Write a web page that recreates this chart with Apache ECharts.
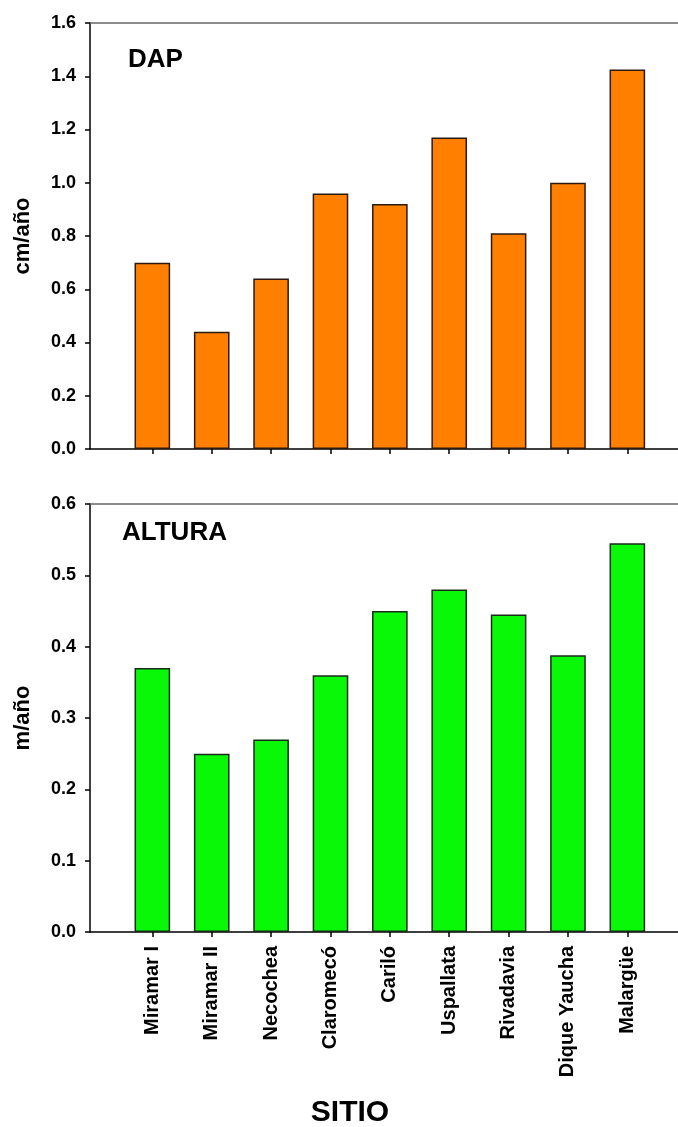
<!DOCTYPE html>
<html>
<head>
<meta charset="utf-8">
<script src="https://cdn.jsdelivr.net/npm/echarts@6/dist/echarts.min.js"></script>
<style>
  html, body { margin: 0; padding: 0; background: #fff; }
  #main { width: 678px; height: 1127px; }
</style>
</head>
<body>
<div id="main"></div>
<script>
// sitios
var sitios = ['Miramar I', 'Miramar II', 'Necochea', 'Claromecó', 'Cariló', 'Uspallata', 'Rivadavia', 'Dique Yaucha', 'Malargüe'];
// crecimiento DAP (cm/año)
var dap = [0.70, 0.44, 0.64, 0.96, 0.92, 1.17, 0.81, 1.00, 1.425];
// crecimiento en altura (m/año)
var altura = [0.37, 0.25, 0.27, 0.36, 0.45, 0.48, 0.445, 0.388, 0.545];
var dapTicks = [0, 1.6, 0.2];
var alturaTicks = [0, 0.6, 0.1];
// posición de cada sitio en el eje x (1..9); el eje sigue más allá del borde derecho
var xPos = [1, 2, 3, 4, 5, 6, 7, 8, 9];
var xRange = [-0.05, 9.853];

var FONT = '"Liberation Sans", Arial, sans-serif';

var pairs = function (vals) {
    return vals.map(function (v, i) { return [xPos[i], v]; });
};

var myChart = echarts.init(document.getElementById('main'));

function xAxisFor(gridIndex, showLabels) {
    return {
        type: 'value',
        gridIndex: gridIndex,
        min: xRange[0],
        max: xRange[1],
        axisLine: { show: true, onZero: false, lineStyle: { color: '#000', width: 1.5 } },
        axisTick: { show: true, customValues: xPos, length: 5, lineStyle: { color: '#000', width: 1.5 } },
        axisLabel: {
            show: showLabels,
            customValues: xPos,
            rotate: 90,
            margin: 14,
            color: '#000',
            fontWeight: 'bold',
            fontSize: 20,
            fontFamily: FONT,
            formatter: function (v) { return sitios[Math.round(v) - 1] || ''; }
        },
        splitLine: { show: false }
    };
}

// línea superior del marco
function topFrame(gridIndex) {
    return {
        type: 'value',
        gridIndex: gridIndex,
        position: 'top',
        min: xRange[0],
        max: xRange[1],
        axisLine: { show: true, onZero: false, lineStyle: { color: '#666', width: 1.5 } },
        axisTick: { show: false },
        axisLabel: { show: false },
        splitLine: { show: false }
    };
}

function yAxisFor(gridIndex, ticks, name) {
    return {
        type: 'value',
        gridIndex: gridIndex,
        min: ticks[0],
        max: ticks[1],
        interval: ticks[2],
        name: name,
        nameLocation: 'middle',
        nameGap: 56,
        nameTextStyle: { color: '#000', fontWeight: 'bold', fontSize: 22, fontFamily: FONT },
        axisLine: { show: true, onZero: false, lineStyle: { color: '#000', width: 1.5 } },
        axisTick: { show: true, length: 5, lineStyle: { color: '#000', width: 1.5 } },
        axisLabel: {
            margin: 14,
            color: '#000',
            fontWeight: 'bold',
            fontSize: 18,
            fontFamily: FONT,
            formatter: function (v) { return v.toFixed(1); }
        },
        splitLine: { show: false }
    };
}

myChart.setOption({
    backgroundColor: '#fff',
    animation: false,
    grid: [
        { left: 90, top: 23, right: 0, height: 426 },
        { left: 90, top: 504, right: 0, height: 428 }
    ],
    xAxis: [xAxisFor(0, false), xAxisFor(1, true), topFrame(0), topFrame(1)],
    yAxis: [yAxisFor(0, dapTicks, 'cm/año'), yAxisFor(1, alturaTicks, 'm/año')],
    series: [
        {
            name: 'DAP',
            type: 'bar',
            xAxisIndex: 0,
            yAxisIndex: 0,
            barWidth: '60%',
            data: pairs(dap),
            itemStyle: { color: '#ff8000', borderColor: '#2b1a10', borderWidth: 1.5 }
        },
        {
            name: 'ALTURA',
            type: 'bar',
            xAxisIndex: 1,
            yAxisIndex: 1,
            barWidth: '60%',
            data: pairs(altura),
            itemStyle: { color: '#08f808', borderColor: '#1a2a1a', borderWidth: 1.5 }
        }
    ],
    graphic: [
        { type: 'text', x: 128, y: 60, style: { text: 'DAP', fill: '#000', font: 'bold 26px ' + FONT, textAlign: 'left', textVerticalAlign: 'middle' } },
        { type: 'text', x: 122, y: 533, style: { text: 'ALTURA', fill: '#000', font: 'bold 26px ' + FONT, textAlign: 'left', textVerticalAlign: 'middle' } },
        { type: 'text', x: 350, y: 1113, style: { text: 'SITIO', fill: '#000', font: 'bold 30px ' + FONT, textAlign: 'center', textVerticalAlign: 'middle' } }
    ]
});
</script>
</body>
</html>
